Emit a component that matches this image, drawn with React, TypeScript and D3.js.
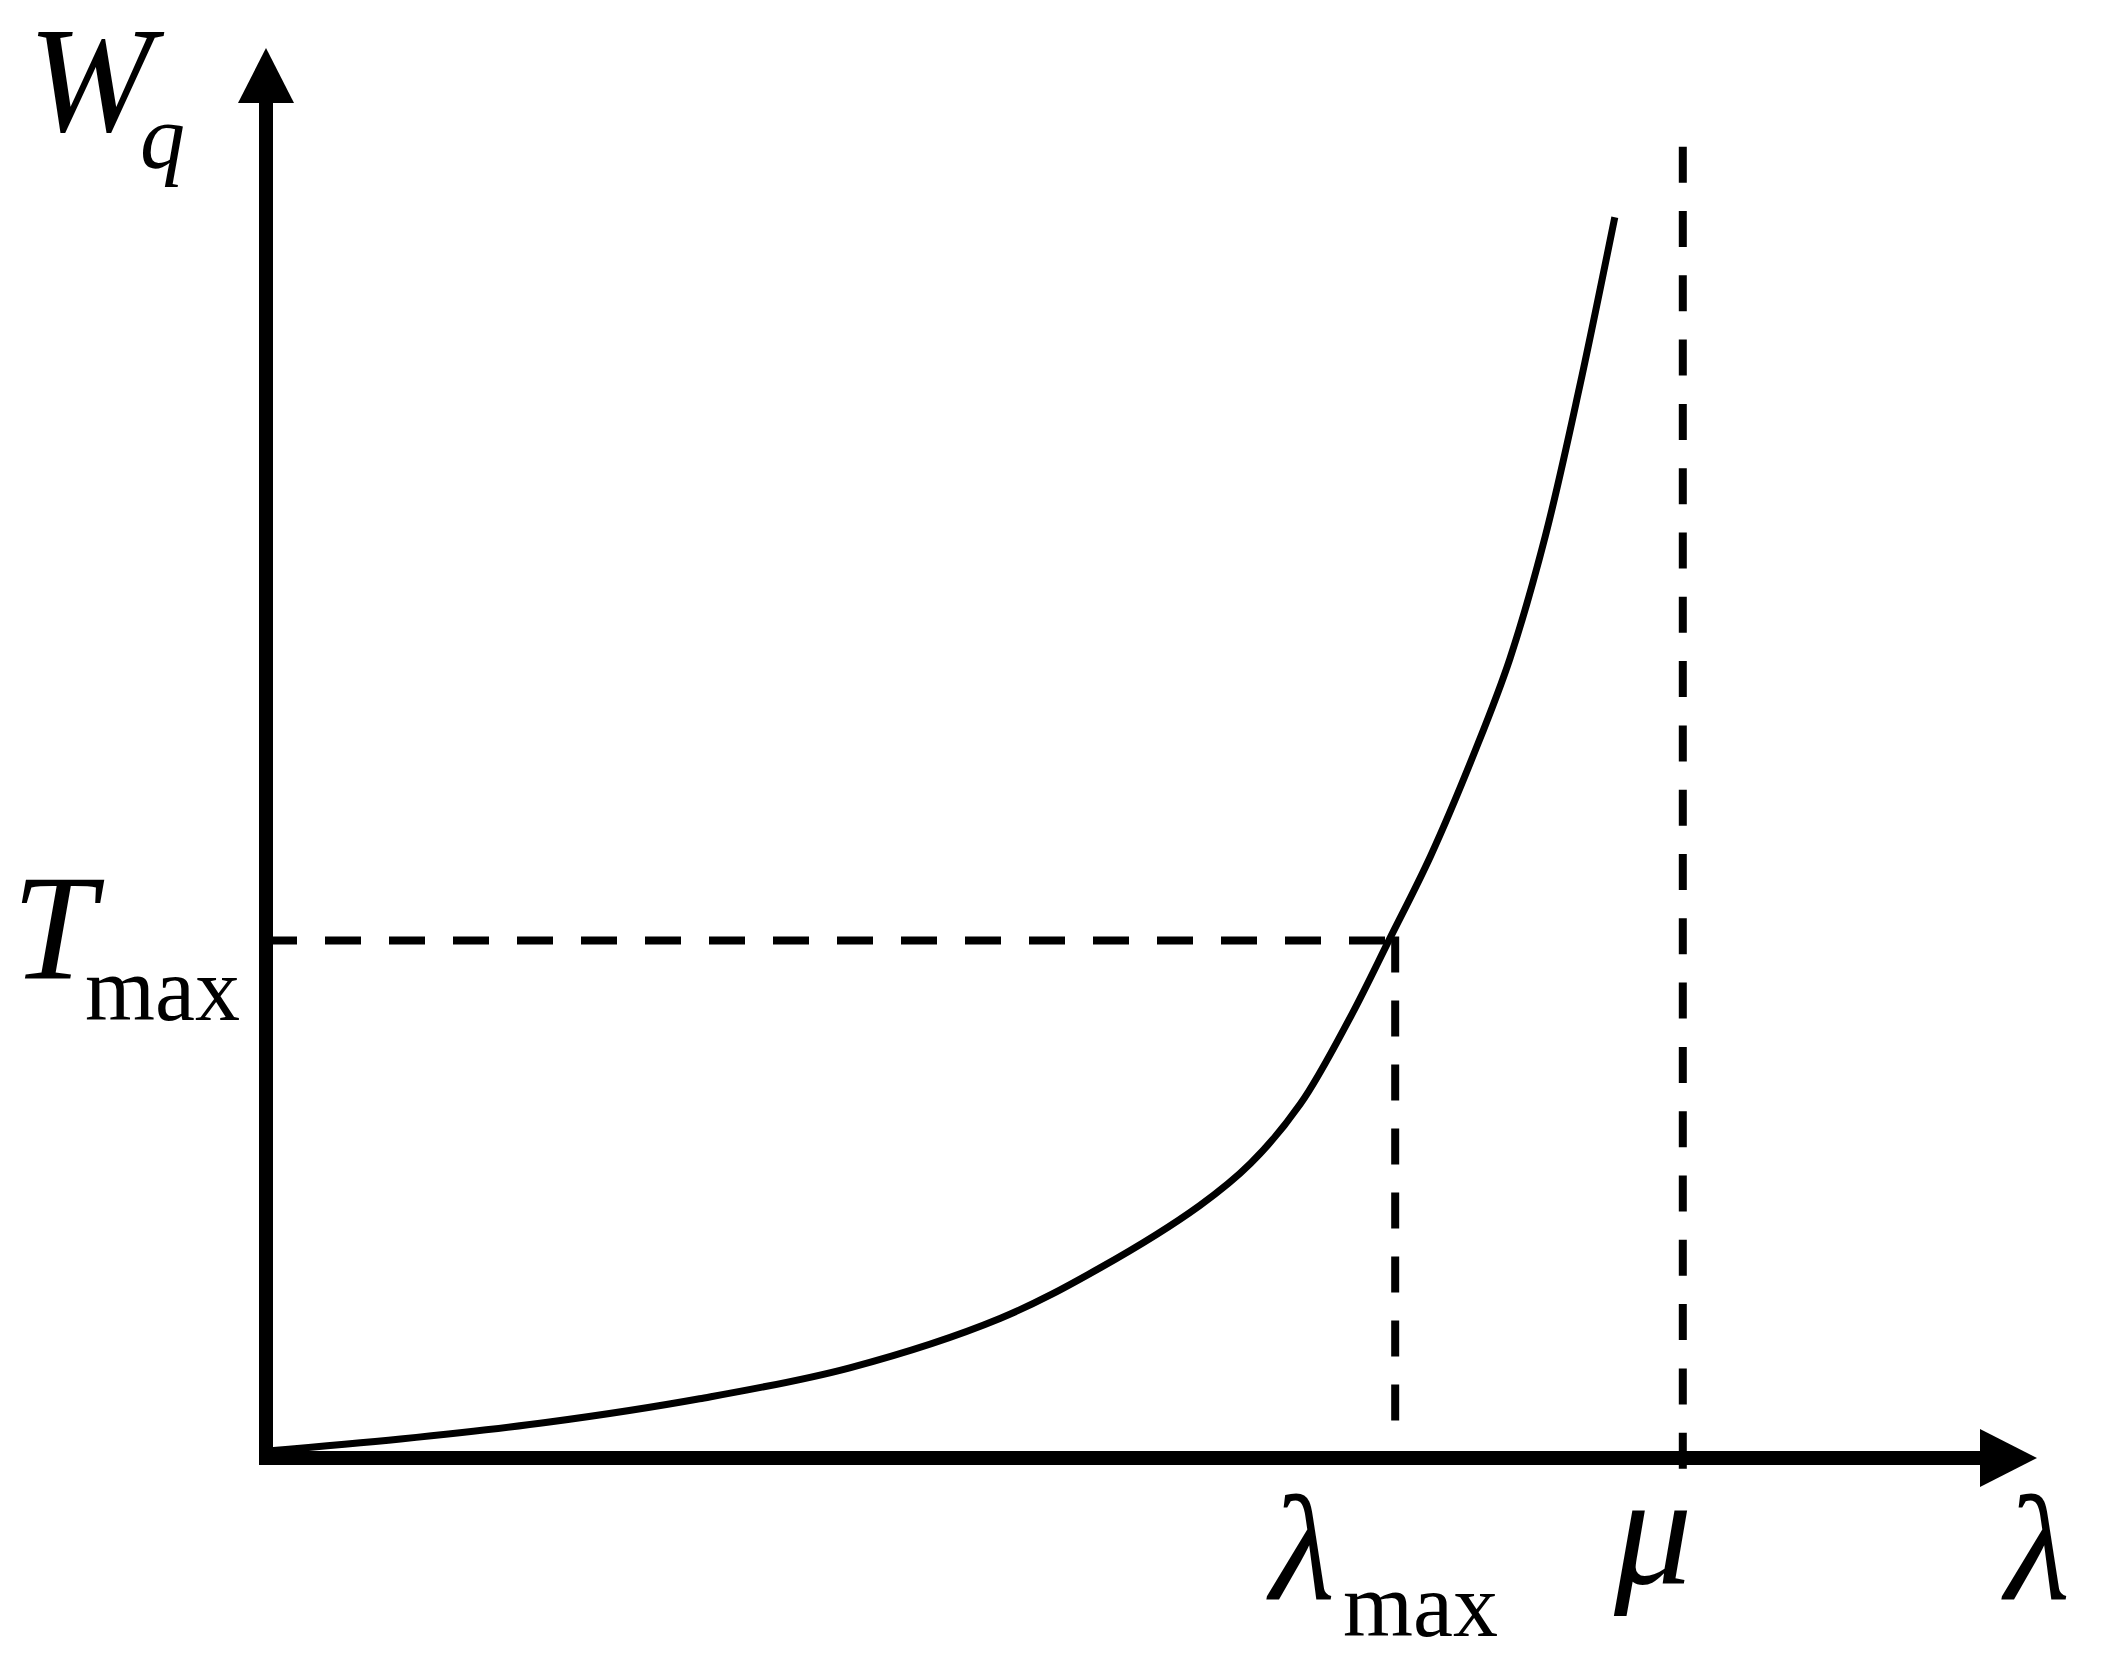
import React from 'react';
import * as d3 from 'd3';

// waiting time curve (lambda, Wq)
const lambdaVals = [0.01, 0.95, 2.0, 3.06, 4.12, 5.18, 5.89, 6.59, 6.95, 7.3, 7.65, 7.93, 8.22, 8.54, 8.78, 9.03, 9.27, 9.52];
const wqVals = [0.05, 0.135, 0.255, 0.42, 0.64, 0.99, 1.35, 1.79, 2.09, 2.51, 3.12, 3.68, 4.27, 5.03, 5.67, 6.54, 7.59, 8.8];

const lambdaMax = 7.97;
const tMax = 3.67;
const mu = 10;
const muTop = 9.3;

const xMax = 12.5;
const yMax = 10;

const W = 2104;
const H = 1657;
const font = '"Liberation Serif", "Times New Roman", serif';

export default function App() {
  const x = d3.scaleLinear().domain([0, xMax]).range([266, 2037]);
  const y = d3.scaleLinear().domain([0, yMax]).range([1458, 48]);

  const line = d3
    .line<number>()
    .x((d, i) => x(lambdaVals[i]))
    .y(d => y(d))
    .curve(d3.curveCatmullRom.alpha(0.5));

  const x0 = x(0);
  const y0 = y(0);
  const axisW = 14;

  return (
    <svg
      width={W}
      height={H}
      style={{ position: 'absolute', left: 0, top: 0, background: '#fff' }}
    >
      <rect x="0" y="0" width={W} height={H} fill="#fff" />

      {/* dashed guides */}
      <line
        x1={x0 + 6}
        x2={x(lambdaMax) + 3}
        y1={y(tMax)}
        y2={y(tMax)}
        stroke="#000"
        strokeWidth={8}
        strokeDasharray="36 28"
        strokeDashoffset={11}
      />
      <line
        x1={x(lambdaMax)}
        x2={x(lambdaMax)}
        y1={y(tMax) - 4}
        y2={y0 - 28}
        stroke="#000"
        strokeWidth={8}
        strokeDasharray="36 28"
      />
      <line
        x1={x(mu)}
        x2={x(mu)}
        y1={y(muTop)}
        y2={y0 + 12}
        stroke="#000"
        strokeWidth={8}
        strokeDasharray="36 28.3"
      />

      {/* curve */}
      <path d={line(wqVals) || ''} fill="none" stroke="#000" strokeWidth={7} />

      {/* axes */}
      <line x1={x0} x2={x0} y1={y0 + axisW / 2} y2={y(yMax) + 50} stroke="#000" strokeWidth={axisW} />
      <line x1={x0 - axisW / 2} x2={x(xMax) - 52} y1={y0} y2={y0} stroke="#000" strokeWidth={axisW} />
      <polygon
        points={`${x0},${y(yMax)} ${x0 - 28},${y(yMax) + 55} ${x0 + 28},${y(yMax) + 55}`}
        fill="#000"
      />
      <polygon
        points={`${x(xMax)},${y0} ${x(xMax) - 57},${y0 - 29} ${x(xMax) - 57},${y0 + 29}`}
        fill="#000"
      />

      {/* labels */}
      <g fontFamily={font} fill="#000">
        <text x={28} y={131} fontSize={150} fontStyle="italic">W</text>
        <text x={140} y={168} fontSize={90} fontStyle="italic">q</text>

        <text x={12} y={978} fontSize={150} fontStyle="italic">T</text>
        <text x={85} y={1020} fontSize={90}>max</text>

        <text x={1270} y={1600} fontSize={150} fontStyle="italic">λ</text>
        <text x={1343} y={1636} fontSize={90}>max</text>

        <text x={1614} y={1583} fontSize={156} fontStyle="italic">μ</text>
        <text x={2005} y={1600} fontSize={150} fontStyle="italic">λ</text>
      </g>
    </svg>
  );
}
